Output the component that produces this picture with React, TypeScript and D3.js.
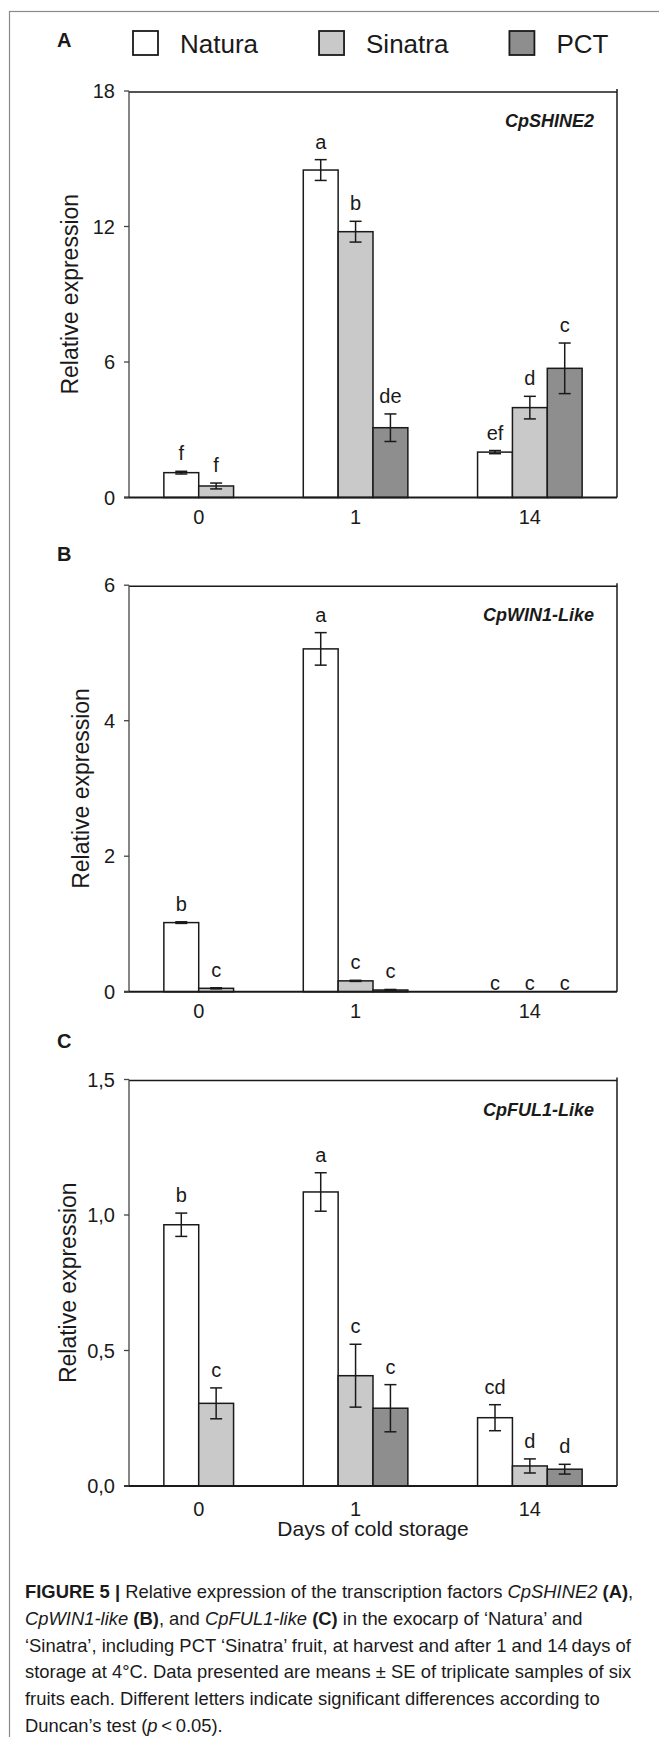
import React from 'react';
import * as d3 from 'd3';

// categories
const days = ['0', '1', '14'];
const series = ['Natura', 'Sinatra', 'PCT'];

// A - CpSHINE2
const shineNatura = [1.1, 14.5, 2.01];
const shineSinatra = [0.51, 11.77, 3.98];
const shinePCT = [null, 3.09, 5.72];
const shineNaturaSE = [0.06, 0.46, 0.07];
const shineSinatraSE = [0.13, 0.46, 0.5];
const shinePCTSE = [null, 0.61, 1.12];
const shineLetters = [['f', 'a', 'ef'], ['f', 'b', 'd'], [null, 'de', 'c']];
const shineTicks = [0, 6, 12, 18];

// B - CpWIN1-Like (day 14 not detected, letters only)
const winNatura = [1.02, 5.06, null];
const winSinatra = [0.05, 0.16, null];
const winPCT = [null, 0.025, null];
const winNaturaSE = [0.012, 0.24, null];
const winSinatraSE = [0.008, 0.008, null];
const winPCTSE = [null, 0.008, null];
const winLetters = [['b', 'a', 'c'], ['c', 'c', 'c'], [null, 'c', 'c']];
const winTicks = [0, 2, 4, 6];

// C - CpFUL1-Like
const fulNatura = [0.964, 1.085, 0.252];
const fulSinatra = [0.305, 0.407, 0.074];
const fulPCT = [null, 0.287, 0.062];
const fulNaturaSE = [0.043, 0.071, 0.048];
const fulSinatraSE = [0.057, 0.116, 0.026];
const fulPCTSE = [null, 0.087, 0.018];
const fulLetters = [['b', 'a', 'cd'], ['c', 'c', 'd'], [null, 'c', 'd']];
const fulTicks = [0, 0.5, 1.0, 1.5];

const W = 659, H = 1737;
const plotL = 129, plotR = 617, plotH = 406.5;
const FONT = "'Liberation Sans', Arial, Helvetica, sans-serif";
const INK = '#1a1a1a';
const fills: Record<string, string> = { Natura: '#ffffff', Sinatra: '#c9c9c9', PCT: '#8e8e8e' };

const panels = [
  { id: 'A', gene: 'CpSHINE2', max: 18, ticks: shineTicks, fmt: d3.format('d'),
    means: [shineNatura, shineSinatra, shinePCT], se: [shineNaturaSE, shineSinatraSE, shinePCTSE],
    letters: shineLetters, top: 91, letterY: 47, titleX: 78, xDy: 26 },
  { id: 'B', gene: 'CpWIN1-Like', max: 6, ticks: winTicks, fmt: d3.format('d'),
    means: [winNatura, winSinatra, winPCT], se: [winNaturaSE, winSinatraSE, winPCTSE],
    letters: winLetters, top: 585.2, letterY: 561, titleX: 89, xDy: 26.5 },
  { id: 'C', gene: 'CpFUL1-Like', max: 1.5, ticks: fulTicks, fmt: (v: number) => d3.format('.1f')(v).replace('.', ','),
    means: [fulNatura, fulSinatra, fulPCT], se: [fulNaturaSE, fulSinatraSE, fulPCTSE],
    letters: fulLetters, top: 1079.5, letterY: 1048, titleX: 76, xDy: 30 },
];

const measure = (txt: string, font: string) => {
  const ctx = document.createElement('canvas').getContext('2d');
  if (!ctx) return txt.length * 13;
  ctx.font = font;
  return ctx.measureText(txt).width;
};

const Panel = ({ p }: { p: any }) => {
  const y = d3.scaleLinear().domain([0, p.max]).range([p.top + plotH, p.top]);
  const y0 = y(0);

  // one slot per drawn bar, two empty slots between days
  const slots: string[] = [];
  days.forEach((d, gi) => {
    if (gi > 0) slots.push('gap' + gi + 'a', 'gap' + gi + 'b');
    series.forEach((s, si) => {
      if (p.means[si][gi] != null || p.letters[si][gi] != null) slots.push(gi + '-' + si);
    });
  });
  const x = d3.scaleBand().domain(slots).range([plotL, plotR]).paddingOuter(1).paddingInner(0);
  const bw = x.bandwidth();

  const items: any[] = [];
  days.forEach((d, gi) => {
    series.forEach((s, si) => {
      const key = gi + '-' + si;
      if (x(key) === undefined) return;
      items.push({ key, gi, si, s, v: p.means[si][gi], e: p.se[si][gi], l: p.letters[si][gi], cx: (x(key) as number) + bw / 2 });
    });
  });

  return (
    <g>
      <text x={57} y={p.letterY} fontSize={20} fontWeight="bold" fill={INK}>{p.id}</text>

      {/* bars */}
      {items.filter(it => it.v != null).map(it => (
        <rect key={'b' + it.key} x={x(it.key)} y={y(it.v)} width={bw} height={y0 - y(it.v)}
          fill={fills[it.s]} stroke={INK} strokeWidth={1.5} />
      ))}
      {/* error bars */}
      {items.filter(it => it.v != null && it.e != null).map(it => (
        <g key={'e' + it.key} stroke={INK} strokeWidth={1.5}>
          <line x1={it.cx} x2={it.cx} y1={y(it.v - it.e)} y2={y(it.v + it.e)} />
          <line x1={it.cx - 6} x2={it.cx + 6} y1={y(it.v + it.e)} y2={y(it.v + it.e)} />
          <line x1={it.cx - 6} x2={it.cx + 6} y1={y(it.v - it.e)} y2={y(it.v - it.e)} />
        </g>
      ))}
      {/* significance letters */}
      {items.filter(it => it.l != null).map(it => (
        <text key={'l' + it.key} x={it.cx} y={it.v == null ? y0 - 2 : y(it.v + (it.e || 0)) - 11}
          textAnchor="middle" fontSize={20} fill={INK}>{it.l}</text>
      ))}

      {/* frame */}
      <line x1={plotL} x2={plotR} y1={y(p.max) + 1} y2={y(p.max) + 1} stroke={INK} strokeWidth={1.5} />
      <line x1={plotR} x2={plotR} y1={y(p.max) - 2} y2={y0} stroke={INK} strokeWidth={1.5} />
      <line x1={plotL} x2={plotL} y1={y(p.max)} y2={y0} stroke="#444" strokeWidth={1.3} />
      <line x1={plotL - 5} x2={plotR} y1={y0} y2={y0} stroke={INK} strokeWidth={2} />

      {/* y ticks */}
      {p.ticks.map((t: number) => (
        <g key={'t' + t}>
          <line x1={plotL - 5} x2={plotL} y1={y(t)} y2={y(t)} stroke="#444" strokeWidth={1.3} />
          <text x={115} y={y(t)} dy="0.36em" textAnchor="end" fontSize={20} fill={INK}>{p.fmt(t)}</text>
        </g>
      ))}

      {/* day labels, centred on the bars present */}
      {days.map((d, gi) => {
        const c = d3.mean(items.filter(it => it.gi === gi), it => it.cx) as number;
        return <text key={'d' + d} x={c} y={y0 + p.xDy} textAnchor="middle" fontSize={20} fill={INK}>{d}</text>;
      })}

      <text x={plotR - 23} y={p.top + 36} textAnchor="end" fontSize={18} fontWeight="bold" fontStyle="italic" fill={INK}>{p.gene}</text>

      <text transform={`translate(${p.titleX},${(y(p.max) + y0) / 2}) rotate(-90)`} textAnchor="middle" fontSize={23} fill={INK}>Relative expression</text>
    </g>
  );
};

const Legend = () => {
  const font = `26px ${FONT}`;
  let cursor = 133;
  const entries = series.map(s => {
    const e = { s, bx: cursor, tx: cursor + 47 };
    cursor = e.tx + measure(s, font) + 61;
    return e;
  });
  return (
    <g>
      {entries.map(e => (
        <g key={e.s}>
          <rect x={e.bx} y={31} width={25} height={24} fill={fills[e.s]} stroke={INK} strokeWidth={1.8} />
          <text x={e.tx} y={53} fontSize={26} fill={INK}>{e.s}</text>
        </g>
      ))}
    </g>
  );
};

const captionLines = [
  [['b', 'FIGURE 5 | '], ['n', 'Relative expression of the transcription factors '], ['i', 'CpSHINE2'], ['n', ' '], ['b', '(A)'], ['n', ',']],
  [['i', 'CpWIN1-like'], ['n', ' '], ['b', '(B)'], ['n', ', and '], ['i', 'CpFUL1-like'], ['n', ' '], ['b', '(C)'], ['n', ' in the exocarp of \u2018Natura\u2019 and']],
  [['n', '\u2018Sinatra\u2019, including PCT \u2018Sinatra\u2019 fruit, at harvest and after 1 and 14\u2009days of']],
  [['n', 'storage at 4\u00b0C. Data presented are means \u00b1 SE of triplicate samples of six']],
  [['n', 'fruits each. Different letters indicate significant differences according to']],
  [['n', 'Duncan\u2019s test ('], ['i', 'p'], ['n', '\u2009<\u20090.05).']],
];

const Caption = () => (
  <g fontSize={18.4} fill={INK}>
    {captionLines.map((line, i) => (
      <text key={i} x={25} y={1598 + i * 26.8}>
        {line.map(([st, t], j) => (
          <tspan key={j} fontWeight={st === 'b' ? 'bold' : 'normal'} fontStyle={st === 'i' ? 'italic' : 'normal'}>{t}</tspan>
        ))}
      </text>
    ))}
  </g>
);

export default function App() {
  return (
    <div style={{ position: 'absolute', left: 0, top: 0 }}>
      <svg width={W} height={H} style={{ display: 'block', fontFamily: FONT }}>
        <rect x={0} y={0} width={W} height={H} fill="#fff" />
        <rect x={9.5} y={11.5} width={700} height={1800} fill="none" stroke="#8a8a8a" strokeWidth={1.2} />
        <Legend />
        {panels.map(p => <Panel key={p.id} p={p} />)}
        <text x={(plotL + plotR) / 2} y={1536} textAnchor="middle" fontSize={21} fill={INK}>Days of cold storage</text>
        <Caption />
      </svg>
    </div>
  );
}
